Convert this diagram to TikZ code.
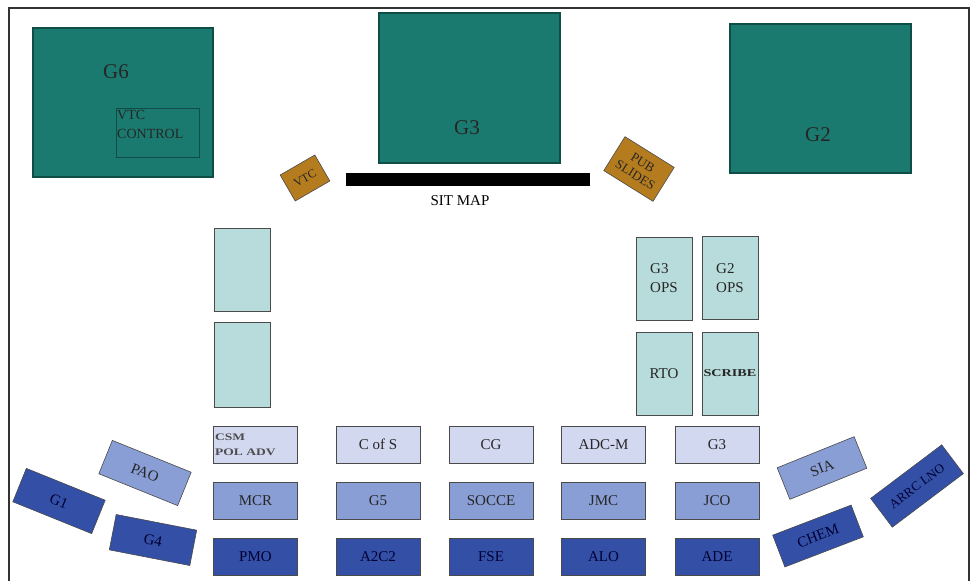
\documentclass[tikz,border=0pt]{standalone}
\usepackage{fontspec}
\setmainfont{Liberation Serif}
\newfontfamily\widefont[FakeStretch=1.35]{Liberation Serif}
\definecolor{teal1}{HTML}{1B7A6F}
\definecolor{teal2}{HTML}{0F4E46}
\definecolor{brownb}{HTML}{B47C1E}
\definecolor{cyanb}{HTML}{B7DCDB}
\definecolor{lavb}{HTML}{D3D8F1}
\definecolor{midb}{HTML}{8A9ED6}
\definecolor{darkb}{HTML}{3350A6}
\definecolor{bord}{HTML}{4A4A4A}
\begin{document}
\begin{tikzpicture}[x=1pt,y=-1pt,
  gbox/.style={draw=teal2,fill=teal1,line width=2.5pt,inner sep=0pt},
  glabel/.style={font=\fontsize{21}{21}\selectfont,text=black!85},
  brbox/.style={draw=bord,fill=brownb,line width=0.6pt,inner sep=0pt,font=\fontsize{12}{12}\selectfont,align=center,text=black!85},
  cybox/.style={draw=bord,fill=cyanb,line width=0.8pt,inner sep=0pt,minimum width=56pt,minimum height=83pt,font=\fontsize{15}{19}\selectfont,text=black!85},
  rowbox/.style={draw=bord,line width=0.8pt,inner sep=0pt,minimum width=84pt,minimum height=37pt,font=\fontsize{15}{15}\selectfont,text=black!85},
  lav/.style={rowbox,fill=lavb},
  mid/.style={rowbox,fill=midb},
  dk/.style={rowbox,fill=darkb,text=black!80!blue},
  rot/.style={draw=bord,line width=0.6pt,inner sep=0pt,minimum height=36pt,font=\fontsize{15}{15}\selectfont,text=black!85}
]
\useasboundingbox (0,0) rectangle (975,581);
% frame
\draw[line width=1.5pt,draw=black!80] (9,581) -- (9,8) -- (969,8) -- (969,581);

% big screens
\node[gbox,minimum width=180pt,minimum height=149pt] (g6) at (123,102.5) {};
\node[glabel] (g6l) at (116,72) {G6};
\node[draw=teal2,line width=0.8pt,minimum width=83pt,minimum height=49pt,inner sep=0pt] (vtcc) at (157.5,132.5) {};
\node[anchor=north west,align=left,inner sep=0pt,font=\fontsize{14}{19}\selectfont,text=black!85] (vtcct) at (117,110) {VTC\\CONTROL};

\node[gbox,minimum width=181pt,minimum height=150pt] (g3) at (469.5,88) {};
\node[glabel] (g3l) at (467,128) {G3};

\node[gbox,minimum width=181pt,minimum height=149pt] (g2) at (820.5,98.5) {};
\node[glabel] (g2l) at (818,135) {G2};

% sit map
\node[fill=black,minimum width=244pt,minimum height=13pt,inner sep=0pt] (sitmap) at (468,179.5) {};
\node[font=\fontsize{15}{15}\selectfont] (sitmapl) at (460,201) {SIT MAP};

% brown
\node[brbox,rotate=30,minimum width=40pt,minimum height=30pt] (vtc) at (305,178) {VTC};
\node[brbox,rotate=-32,minimum width=58pt,minimum height=40pt,font=\fontsize{13}{14}\selectfont] (pub) at (639,169) {PUB\\SLIDES};

% cyan desks
\node[cybox] (c1) at (242,269.5) {};
\node[cybox,minimum height=85pt] (c2) at (242,364.5) {};
\node[cybox,align=left] (g3ops) at (664,278.5) {G3\\OPS};
\node[cybox,align=left] (g2ops) at (730,278) {G2\\OPS};
\node[cybox] (rto) at (664,373.5) {RTO};
\node[cybox,font=\widefont\fontsize{10.5}{11}\selectfont\bfseries] (scribe) at (730,373.5) {SCRIBE};

% rows
\node[lav] (csm) at (255.5,444.5) {};
\node[anchor=west,align=left,inner sep=0pt,font=\widefont\fontsize{10}{15}\selectfont\bfseries,text=black!70] (csmt) at (215,444.5) {CSM\\POL ADV};
\node[lav] (cos) at (378,444.5) {C of S};
\node[lav] (cg) at (491,444.5) {CG};
\node[lav] (adcm) at (603.5,444.5) {ADC-M};
\node[lav] (g3r) at (717,444.5) {G3};

\node[mid] (mcr) at (255.5,500.5) {MCR};
\node[mid] (g5) at (378,500.5) {G5};
\node[mid] (socce) at (491,500.5) {SOCCE};
\node[mid] (jmc) at (603.5,500.5) {JMC};
\node[mid] (jco) at (717,500.5) {JCO};

\node[dk] (pmo) at (255.5,556.5) {PMO};
\node[dk] (a2c2) at (378,556.5) {A2C2};
\node[dk] (fse) at (491,556.5) {FSE};
\node[dk] (alo) at (603.5,556.5) {ALO};
\node[dk] (ade) at (717,556.5) {ADE};

% rotated side desks
\node[rot,fill=midb,rotate=-22,minimum width=85pt] (pao) at (145,473) {PAO};
\node[rot,fill=darkb,text=black!80!blue,rotate=-22,minimum width=85pt] (g1) at (59,501) {G1};
\node[rot,fill=darkb,text=black!80!blue,rotate=-11,minimum width=82pt] (g4) at (153,540) {G4};
\node[rot,fill=midb,rotate=22,minimum width=83pt,minimum height=34pt] (sia) at (822,468) {SIA};
\node[rot,fill=darkb,text=black!80!blue,rotate=21,minimum width=84pt,minimum height=34pt] (chem) at (818,536) {CHEM};
\node[rot,fill=darkb,text=black!80!blue,rotate=37,minimum width=89pt,minimum height=36pt,font=\fontsize{13}{13}\selectfont] (arrc) at (917,486) {ARRC LNO};
\end{tikzpicture}
\end{document}
